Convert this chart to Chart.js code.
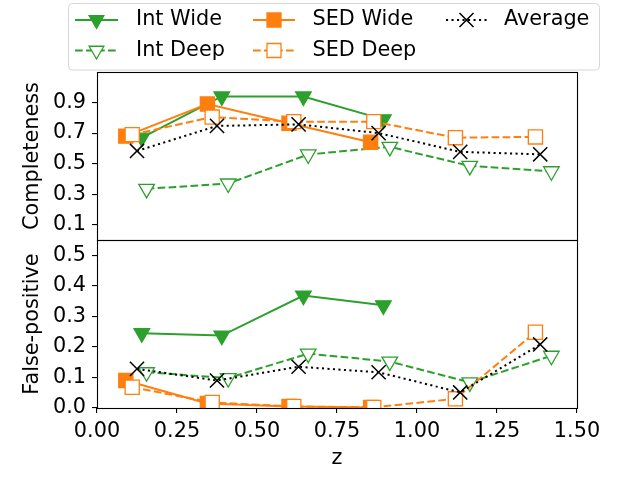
<!DOCTYPE html>
<html>
<head>
<meta charset="utf-8">
<script src="https://cdn.jsdelivr.net/npm/chart.js@4"></script>
<style>
  html, body { margin: 0; padding: 0; background: #fff; }
  #wrap { width: 640px; height: 480px; }
</style>
</head>
<body>
<div id="wrap"><canvas id="chart" width="640" height="480"></canvas></div>
<script>
// values
const intWideX = [0.14, 0.39, 0.645, 0.895];
const intWideComp = [0.67, 0.94, 0.94, 0.79];
const intWideFP = [0.245, 0.237, 0.368, 0.336];

const intDeepX = [0.155, 0.41, 0.66, 0.915, 1.165, 1.42];
const intDeepComp = [0.335, 0.37, 0.56, 0.61, 0.485, 0.45];
const intDeepFP = [0.117, 0.098, 0.178, 0.152, 0.084, 0.171];

const sedWideX = [0.09, 0.345, 0.6, 0.855];
const sedWideComp = [0.68, 0.89, 0.765, 0.64];
const sedWideFP = [0.09, 0.015, 0.005, 0.002];

const sedDeepX = [0.11, 0.36, 0.615, 0.865, 1.12, 1.37];
const sedDeepComp = [0.69, 0.805, 0.775, 0.775, 0.67, 0.675];
const sedDeepFP = [0.068, 0.018, 0.005, 0.002, 0.03, 0.248];

const avgX = [0.125, 0.375, 0.63, 0.88, 1.135, 1.385];
const avgComp = [0.583, 0.747, 0.757, 0.70, 0.577, 0.561];
const avgFP = [0.128, 0.09, 0.135, 0.117, 0.051, 0.208];

const xTicks = [0, 0.25, 0.5, 0.75, 1.0, 1.25, 1.5];
const compTicks = [0.1, 0.3, 0.5, 0.7, 0.9];
const fpTicks = [0, 0.1, 0.2, 0.3, 0.4, 0.5];

const GREEN = '#2ca02c';
const ORANGE = '#ff7f0e';
const DASH = [7.7, 3.3];
const DOT = [2.1, 3.4];
const FONT = 'DejaVu Sans';

function pts(xs, ys) {
    return xs.map(function (x, i) { return {x: x, y: ys[i]}; });
}

// one style per series, used for both panels and the legend
const series = [
    {label: 'Int Wide', x: intWideX, comp: intWideComp, fp: intWideFP, color: GREEN, dash: [], marker: 'tri', filled: true, order: 5},
    {label: 'Int Deep', x: intDeepX, comp: intDeepComp, fp: intDeepFP, color: GREEN, dash: DASH, marker: 'tri', filled: false, order: 4},
    {label: 'SED Wide', x: sedWideX, comp: sedWideComp, fp: sedWideFP, color: ORANGE, dash: [], marker: 'sq', filled: true, order: 3},
    {label: 'SED Deep', x: sedDeepX, comp: sedDeepComp, fp: sedDeepFP, color: ORANGE, dash: DASH, marker: 'sq', filled: false, order: 2},
    {label: 'Average', x: avgX, comp: avgComp, fp: avgFP, color: '#000000', dash: DOT, marker: 'x', filled: false, order: 1}
];

function makeDataset(s, ys, yAxis) {
    var style = s.marker === 'tri' ? 'triangle' : (s.marker === 'sq' ? 'rect' : 'crossRot');
    var radius = s.marker === 'tri' ? 9 : 10;
    return {
        label: s.label,
        data: pts(s.x, ys),
        xAxisID: 'x',
        yAxisID: yAxis,
        order: s.order,
        borderColor: s.color,
        borderWidth: 2,
        borderDash: s.dash,
        tension: 0,
        fill: false,
        pointStyle: style,
        pointRotation: s.marker === 'tri' ? 180 : 0,
        pointRadius: radius,
        pointHoverRadius: radius,
        pointBorderWidth: s.marker === 'x' ? 1.5 : 1.3,
        pointBorderColor: s.color,
        pointBackgroundColor: s.filled ? s.color : '#ffffff'
    };
}

var datasets = [];
series.forEach(function (s) {
    datasets.push(makeDataset(s, s.comp, 'yComp'));
    datasets.push(makeDataset(s, s.fp, 'yFP'));
});

// legend markers drawn by hand (matplotlib style, 3 columns)
function drawMarker(ctx, kind, filled, color, x, y) {
    ctx.save();
    ctx.setLineDash([]);
    ctx.strokeStyle = color;
    ctx.fillStyle = filled ? color : '#ffffff';
    ctx.lineWidth = 1.3;
    ctx.beginPath();
    if (kind === 'tri') {
        var r = 8.5;
        ctx.moveTo(x, y + r);
        ctx.lineTo(x - r * Math.sin(Math.PI / 3), y - r / 2);
        ctx.lineTo(x + r * Math.sin(Math.PI / 3), y - r / 2);
        ctx.closePath();
        ctx.fill();
        ctx.stroke();
    } else if (kind === 'sq') {
        var h = 7;
        ctx.rect(x - h, y - h, 2 * h, 2 * h);
        ctx.fill();
        ctx.stroke();
    } else {
        var d = 7;
        ctx.lineWidth = 1.5;
        ctx.moveTo(x - d, y - d); ctx.lineTo(x + d, y + d);
        ctx.moveTo(x - d, y + d); ctx.lineTo(x + d, y - d);
        ctx.stroke();
    }
    ctx.restore();
}

const legendPos = [
    {x0: 75, x1: 118, tx: 136, y: 20},
    {x0: 75, x1: 118, tx: 136, y: 50.5},
    {x0: 253, x1: 295, tx: 312.5, y: 20},
    {x0: 253, x1: 295, tx: 312.5, y: 50.5},
    {x0: 446, x1: 487, tx: 504, y: 20}
];

const framePlugin = {
    id: 'frames',
    afterDatasetsDraw: function (chart) {
        var ctx = chart.ctx;
        var a = chart.chartArea;
        ctx.save();
        ctx.strokeStyle = '#000';
        ctx.lineWidth = 1.1;
        ['yComp', 'yFP'].forEach(function (id) {
            var sc = chart.scales[id];
            ctx.strokeRect(Math.round(a.left) + 0.5, Math.round(sc.top) + 0.5,
                Math.round(a.right - a.left), Math.round(sc.bottom - sc.top));
        });
        ctx.restore();
    },
    afterDraw: function (chart) {
        var ctx = chart.ctx;
        ctx.save();
        // legend box
        ctx.beginPath();
        ctx.roundRect(68.5, 3.5, 531, 66.5, 4);
        ctx.fillStyle = 'rgba(255,255,255,0.8)';
        ctx.fill();
        ctx.strokeStyle = '#d6d6d6';
        ctx.lineWidth = 1;
        ctx.stroke();
        series.forEach(function (s, i) {
            var p = legendPos[i];
            ctx.beginPath();
            ctx.setLineDash(s.dash);
            ctx.strokeStyle = s.color;
            ctx.lineWidth = 2;
            ctx.moveTo(p.x0, p.y);
            ctx.lineTo(p.x1, p.y);
            ctx.stroke();
            drawMarker(ctx, s.marker, s.filled, s.color, (p.x0 + p.x1) / 2, p.y);
            ctx.setLineDash([]);
            ctx.fillStyle = '#000';
            ctx.font = '20.8px "' + FONT + '"';
            ctx.textBaseline = 'middle';
            ctx.textAlign = 'left';
            ctx.fillText(s.label, p.tx, p.y);
        });
        ctx.restore();
    }
};

function fixTicks(list) {
    return function (scale) {
        scale.ticks = list.map(function (v) { return {value: v}; });
    };
}

function yScale(min, max, ticks, title) {
    return {
        type: 'linear',
        position: 'left',
        stack: 'panels',
        stackWeight: 1,
        min: min,
        max: max,
        afterBuildTicks: fixTicks(ticks),
        afterFit: function (scale) { scale.width = 97; },
        border: {display: false},
        grid: {drawOnChartArea: false, drawTicks: true, tickLength: 5, color: '#000', lineWidth: 1.1},
        ticks: {
            color: '#000',
            padding: 6,
            autoSkip: false,
            font: {family: FONT, size: 20.8},
            callback: function (v) { return Number(v).toFixed(1); }
        },
        title: {
            display: true,
            text: title,
            color: '#000',
            font: {family: FONT, size: 20.8},
            padding: {top: 20, bottom: 0}
        }
    };
}

Chart.defaults.font.family = FONT;
Chart.defaults.color = '#000';

new Chart(document.getElementById('chart').getContext('2d'), {
    type: 'line',
    data: {datasets: datasets},
    plugins: [framePlugin],
    options: {
        responsive: false,
        animation: false,
        events: [],
        layout: {padding: {left: 0, right: 63, top: 72, bottom: 0}},
        plugins: {
            legend: {display: false},
            tooltip: {enabled: false}
        },
        scales: {
            x: {
                type: 'linear',
                min: 0,
                max: 1.5,
                afterBuildTicks: fixTicks(xTicks),
                afterFit: function (scale) { scale.height = 72; },
                border: {display: false},
                grid: {drawOnChartArea: false, drawTicks: true, tickLength: 5, color: '#000', lineWidth: 1.1},
                ticks: {
                    color: '#000',
                    padding: 6,
                    maxRotation: 0,
                    autoSkip: false,
                    font: {family: FONT, size: 20.8},
                    callback: function (v) { return Number(v).toFixed(2); }
                },
                title: {
                    display: true,
                    text: 'z',
                    color: '#000',
                    font: {family: FONT, size: 20.8},
                    padding: {top: 0, bottom: 9}
                }
            },
            // the first stacked axis goes to the bottom
            yFP: yScale(0, 0.55, fpTicks, 'False-positive'),
            yComp: yScale(0, 1.1, compTicks, 'Completeness')
        }
    }
});
</script>
</body>
</html>
